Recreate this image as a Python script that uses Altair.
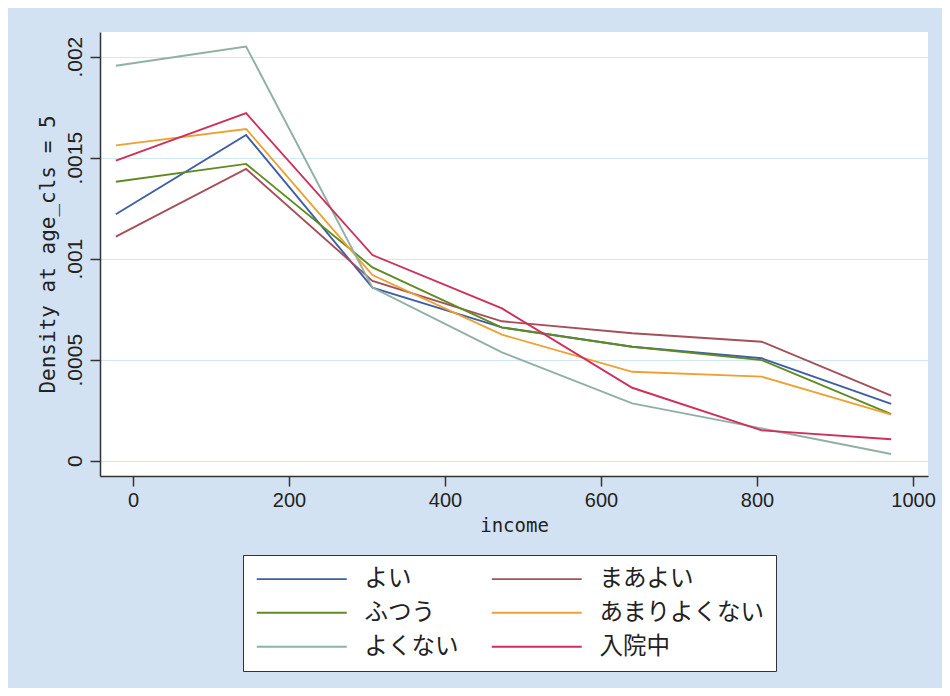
import altair as alt
import pandas as pd

series = ["よい", "まあよい", "ふつう", "あまりよくない", "よくない", "入院中"]
colors = ["#3d5fa6", "#a4505a", "#5f8b22", "#eea032", "#90b0a2", "#cf2f5a"]
widths = [1.9, 1.9, 1.9, 1.9, 1.9, 2.7]

income = [-22, 145, 307, 473, 640, 806, 972]

yoi = [0.001220, 0.001612, 0.000857, 0.000660, 0.000564, 0.000507, 0.000281]
maayoi = [0.001109, 0.001444, 0.000890, 0.000690, 0.000631, 0.000589, 0.000322]
futsuu = [0.001381, 0.001469, 0.000957, 0.000659, 0.000564, 0.000498, 0.000231]
amari = [0.001561, 0.001642, 0.000919, 0.000624, 0.000440, 0.000416, 0.000228]
yokunai = [0.001955, 0.002050, 0.000857, 0.000536, 0.000284, 0.000160, 0.000033]
nyuin = [0.001485, 0.001720, 0.001018, 0.000754, 0.000361, 0.000150, 0.000106]

x_ticks = [0, 200, 400, 600, 800, 1000]
y_ticks = [0, 0.0005, 0.001, 0.0015, 0.002]

rows = []
for name, vals in zip(series, [yoi, maayoi, futsuu, amari, yokunai, nyuin]):
    for x, v in zip(income, vals):
        rows.append({"income": x, "density": v, "series": name})
df = pd.DataFrame(rows)

chart = alt.Chart(df).mark_line().encode(
    x=alt.X(
        "income:Q",
        scale=alt.Scale(domain=[-42.3, 1019.2], nice=False, zero=False),
        axis=alt.Axis(
            values=x_ticks, title="income", grid=False, format="d",
            labelFont="Liberation Sans", labelFontSize=20, labelColor="#222",
            labelPadding=4, tickSize=10, tickWidth=1.5, tickColor="#333",
            domainColor="#333", domainWidth=1.5,
            titleFont="DejaVu Sans Mono", titleFontSize=19, titleFontWeight="normal",
            titleColor="#222", titlePadding=6,
        ),
    ),
    y=alt.Y(
        "density:Q",
        scale=alt.Scale(domain=[-0.0000757, 0.002122], nice=False, zero=False),
        axis=alt.Axis(
            values=y_ticks, title="Density at age_cls = 5",
            labelExpr="datum.value == 0 ? '0' : substring(format(datum.value, '.4~f'), 1)",
            labelAngle=270, labelAlign="center", labelBaseline="bottom",
            labelFont="Liberation Sans", labelFontSize=21, labelColor="#222",
            labelPadding=5, tickSize=10, tickWidth=1.5, tickColor="#333",
            domainColor="#333", domainWidth=1.5,
            grid=True, gridColor="#d3e7f0", gridWidth=1,
            titleFont="DejaVu Sans Mono", titleFontSize=21, titleFontWeight="normal",
            titleColor="#222", titlePadding=6,
        ),
    ),
    color=alt.Color(
        "series:N",
        sort=series,
        scale=alt.Scale(domain=series, range=colors),
        legend=alt.Legend(
            title=None, orient="none", legendX=143, legendY=523,
            columns=2, direction="horizontal", columnPadding=28, rowPadding=9,
            symbolType="M-1,0H8", symbolSize=400, symbolStrokeWidth=2,
            labelFont="Noto Sans CJK JP", labelFontSize=23.5, labelColor="#222",
            labelOffset=86, labelLimit=400, padding=12,
            fillColor="white", strokeColor="#333", cornerRadius=0,
        ),
    ),
    strokeWidth=alt.StrokeWidth(
        "series:N", sort=series,
        scale=alt.Scale(domain=series, range=widths), legend=None,
    ),
).properties(
    width=828,
    height=444,
    background="#d2e2f3",
    padding={"left": 92, "top": 24, "right": 14, "bottom": 212},
    autosize="none",
).configure_view(fill="white", stroke=None)

chart.save("out.html", embed_options={"renderer": "svg", "actions": False})
